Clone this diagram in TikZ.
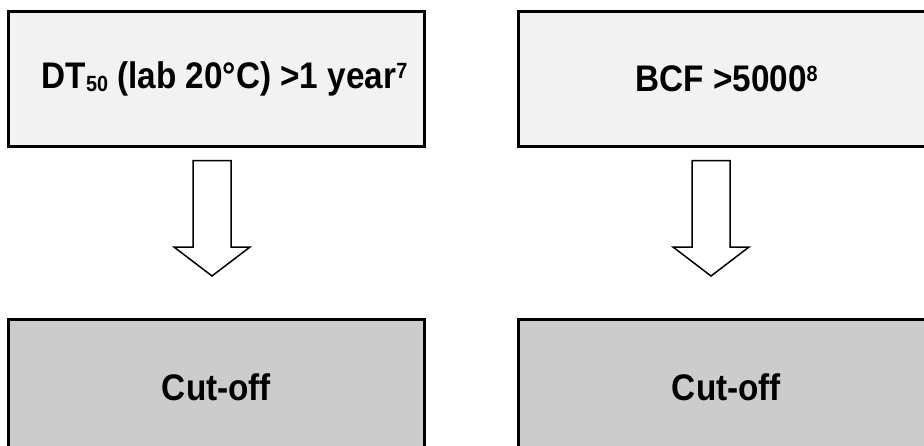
\documentclass[tikz,border=0pt]{standalone}
\usepackage{fontspec}
\setmainfont{Liberation Sans}[FakeStretch=0.9]
\definecolor{topfill}{HTML}{F2F2F2}
\definecolor{botfill}{HTML}{CCCCCC}
\newcommand{\mysub}[1]{\raisebox{-3pt}{\fontsize{22}{22}\selectfont #1}}
\newcommand{\mysup}[1]{\raisebox{10pt}{\fontsize{22}{22}\selectfont #1}}
\tikzset{
  box/.style={draw=black, line width=3pt, minimum width=416pt, minimum height=135pt,
    inner sep=0pt, font=\fontsize{37}{40}\selectfont\bfseries, anchor=north west},
  topbox/.style={box, fill=topfill},
  botbox/.style={box, fill=botfill},
  blockarrow/.style={draw=black, line width=1.5pt, fill=white, line join=miter},
  pics/downarrow/.style={code={
    \draw[blockarrow] (-19pt,0) -- (19pt,0) -- (19pt,-86.5pt) -- (38pt,-86.5pt)
      -- (0,-115.5pt) -- (-38pt,-86.5pt) -- (-19pt,-86.5pt) -- cycle;
  }}
}
\begin{document}
\begin{tikzpicture}[x=1pt,y=-1pt]
\clip (0,0) rectangle (924,445);
\fill[white] (0,0) rectangle (924,445);
\node[topbox] (t1) at (7,9.5) {\hspace*{16pt}DT\mysub{50} (lab 20°C) >1 year\mysup{7}};
\node[topbox] (t2) at (517,9.5) {BCF >5000\mysup{8}};
\node[botbox] (b1) at (7,318) {Cut-off};
\node[botbox] (b2) at (517,318) {Cut-off};
\coordinate (a1) at (212,160.5);
\coordinate (a2) at (711,160.5);
\pic at (a1) {downarrow};
\pic at (a2) {downarrow};
\end{tikzpicture}
\end{document}
